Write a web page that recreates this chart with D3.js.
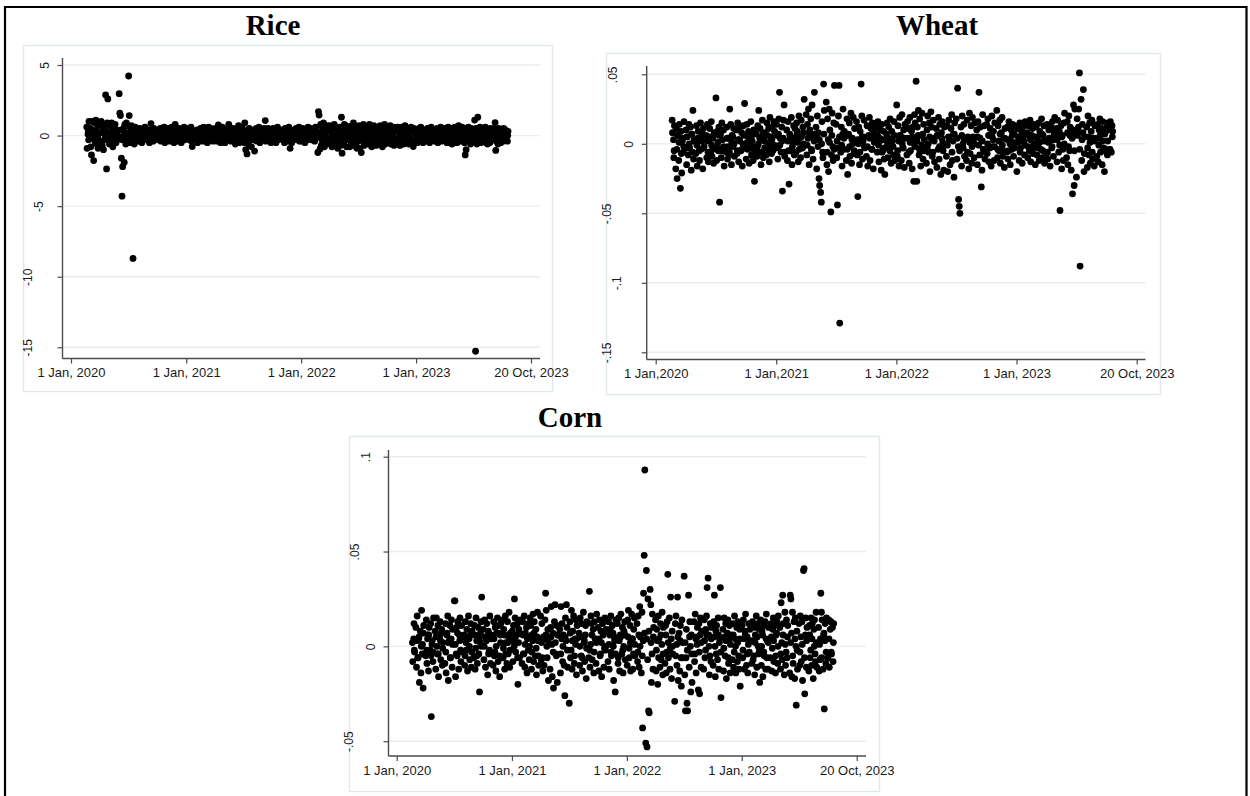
<!DOCTYPE html>
<html>
<head>
<meta charset="utf-8">
<script src="https://cdn.jsdelivr.net/npm/d3@7"></script>
<style>
  html, body { margin: 0; padding: 0; background: #fff; }
  svg { display: block; }
</style>
</head>
<body>
<svg id="chart" width="1250" height="796"></svg>
<script>
// Trading days shared by the three daily return series (yymmdd)
const tradeDates = [
  200220,200221,200225,200227,
  200302,200304,200306,200309,200311,200313,200316,200318,200320,200323,200325,200327,
  200402,200404,200406,200409,200411,200413,200416,200418,200420,200423,200425,200427,
  200502,200504,200506,200509,200511,200513,200516,200518,200520,200523,200525,200527,
  200602,200604,200606,200609,200611,200613,200616,200618,200620,200623,200625,200627,
  200702,200704,200706,200709,200711,200713,200716,200718,200720,200723,200725,200727,
  200802,200804,200806,200809,200811,200813,200816,200818,200820,200823,200825,200827,
  200902,200904,200906,200909,200911,200913,200916,200918,200920,200923,200925,200927,
  201002,201004,201006,201009,201011,201013,201016,201018,201020,201023,201025,201027,
  201102,201104,201106,201109,201111,201113,201116,201118,201120,201123,201125,201127,
  201202,201204,201206,201209,201211,201213,201216,201218,201220,201223,201225,201227,
  210102,210104,210106,210109,210111,210113,210116,210118,210120,210123,210125,210127,
  210202,210204,210206,210209,210211,210213,210216,210218,210220,210223,210225,210227,
  210302,210304,210306,210309,210311,210313,210316,210318,210320,210323,210325,210327,
  210402,210404,210406,210409,210411,210413,210416,210418,210420,210423,210425,210427,
  210502,210504,210506,210509,210511,210513,210516,210518,210520,210523,210525,210527,
  210602,210604,210606,210609,210611,210613,210616,210618,210620,210623,210625,210627,
  210702,210704,210706,210709,210711,210713,210716,210718,210720,210723,210725,210727,
  210802,210804,210806,210809,210811,210813,210816,210818,210820,210823,210825,210827,
  210902,210904,210906,210909,210911,210913,210916,210918,210920,210923,210925,210927,
  211002,211004,211006,211009,211011,211013,211016,211018,211020,211023,211025,211027,
  211102,211104,211106,211109,211111,211113,211116,211118,211120,211123,211125,211127,
  211202,211204,211206,211209,211211,211213,211216,211218,211220,211223,211225,211227,
  220102,220104,220106,220109,220111,220113,220116,220118,220120,220123,220125,220127,
  220202,220204,220206,220209,220211,220213,220216,220218,220220,220223,220225,220227,
  220302,220304,220306,220309,220311,220313,220316,220318,220320,220323,220325,220327,
  220402,220404,220406,220409,220411,220413,220416,220418,220420,220423,220425,220427,
  220502,220504,220506,220509,220511,220513,220516,220518,220520,220523,220525,220527,
  220602,220604,220606,220609,220611,220613,220616,220618,220620,220623,220625,220627,
  220702,220704,220706,220709,220711,220713,220716,220718,220720,220723,220725,220727,
  220802,220804,220806,220809,220811,220813,220816,220818,220820,220823,220825,220827,
  220902,220904,220906,220909,220911,220913,220916,220918,220920,220923,220925,220927,
  221002,221004,221006,221009,221011,221013,221016,221018,221020,221023,221025,221027,
  221102,221104,221106,221109,221111,221113,221116,221118,221120,221123,221125,221127,
  221202,221204,221206,221209,221211,221213,221216,221218,221220,221223,221225,221227,
  230102,230104,230106,230109,230111,230113,230116,230118,230120,230123,230125,230127,
  230202,230204,230206,230209,230211,230213,230216,230218,230220,230223,230225,230227,
  230302,230304,230306,230309,230311,230313,230316,230318,230320,230323,230325,230327,
  230402,230404,230406,230409,230411,230413,230416,230418,230420,230423,230425,230427,
  230502,230504,230506,230509,230511,230513,230516,230518,230520,230523,230525,230527,
  230602,230604,230606,230609,230611,230613,230616,230618,230620,230623,230625,230627,
  230702,230704,230706,230709,230711,230713,230716,230718,230720,230723,230725,230727,
  230802,230804,230806,230809,230811,230813,230816,230818,230820,230823,230825,230827,
  230902,230904,230906,230909,230911,230913,230916,230918,230920,230923,230925,230927,
  231002,231004,231006,231009,231011,231013,231016,231018,231020,
  // remaining trading days of each month
  200224,200226,
  200305,200308,200312,200319,200322,200326,
  200405,200408,200412,200419,200422,200426,
  200505,200508,200512,200519,200522,200526,
  200605,200608,200612,200619,200622,200626,
  200705,200708,200712,200719,200722,200726,
  200805,200808,200812,200819,200822,200826,
  200905,200908,200912,200919,200922,200926,
  201005,201008,201012,201019,201022,201026,
  201105,201108,201112,201119,201122,201126,
  201205,201208,201212,201219,201222,201226,
  210105,210108,210112,210119,210122,210126,
  210205,210208,210212,210219,210222,210226,
  210305,210308,210312,210319,210322,210326,
  210405,210408,210412,210419,210422,210426,
  210505,210508,210512,210519,210522,210526,
  210605,210608,210612,210619,210622,210626,
  210705,210708,210712,210719,210722,210726,
  210805,210808,210812,210819,210822,210826,
  210905,210908,210912,210919,210922,210926,
  211005,211008,211012,211019,211022,211026,
  211105,211108,211112,211119,211122,211126,
  211205,211208,211212,211219,211222,211226,
  220105,220108,220112,220119,220122,220126,
  220205,220208,220212,220219,220222,220226,
  220305,220308,220312,220319,220322,220326,
  220405,220408,220412,220419,220422,220426,
  220505,220508,220512,220519,220522,220526,
  220605,220608,220612,220619,220622,220626,
  220705,220708,220712,220719,220722,220726,
  220805,220808,220812,220819,220822,220826,
  220905,220908,220912,220919,220922,220926,
  221005,221008,221012,221019,221022,221026,
  221105,221108,221112,221119,221122,221126,
  221205,221208,221212,221219,221222,221226,
  230105,230108,230112,230119,230122,230126,
  230205,230208,230212,230219,230222,230226,
  230305,230308,230312,230319,230322,230326,
  230405,230408,230412,230419,230422,230426,
  230505,230508,230512,230519,230522,230526,
  230605,230608,230612,230619,230622,230626,
  230705,230708,230712,230719,230722,230726,
  230805,230808,230812,230819,230822,230826,
  230905,230908,230912,230919,230922,230926,
  231005,231012,231019
];

// Rice daily returns (%)
const rice = [
  .6,-.9,.3,1.0,
  .5,-.8,-1.37,1.0,.2,-1.77,.9,-.4,1.1,-.6,.7,-.9,
  .8,-.5,1.0,-.7,.4,-1.0,.6,-.3,2.88,-2.36,.9,2.6,
  -.6,.7,-.4,.9,.3,-.8,.5,-.2,.8,-.5,.4,-.3,
  2.97,1.58,1.42,-1.6,-4.29,-2.2,.5,-1.9,.8,-.6,.9,-.5,
  4.22,1.42,.6,-.5,.7,-.4,-8.7,.3,-.6,.6,-.3,.5,
  .3,-.4,.5,-.2,.1,-.5,.4,.2,-.3,.6,-.1,.3,
  -.2,.4,-.5,.3,.85,-.3,.2,-.4,.5,.1,-.2,.4,
  .2,-.3,.4,-.1,.5,-.4,.3,-.2,.1,.6,-.5,.2,
  -.3,.5,.1,-.4,.3,-.2,.6,-.1,.2,-.5,.4,.8,
  .1,-.4,.3,.5,-.2,.2,-.5,.4,-.1,.3,.6,-.3,
  .2,.4,-.2,.5,-.3,.1,.6,-.4,-.78,.3,-.1,.2,
  -.2,.4,-.5,.3,.1,-.3,.5,-.1,.2,-.4,.6,.3,
  .4,-.1,.3,-.5,.2,.6,-.3,.1,.5,-.2,.3,-.4,
  -.3,.5,.2,-.4,.3,.75,-.2,.4,-.5,.1,.6,-.1,
  .2,-.5,.4,.1,-.3,.5,.8,-.2,.3,-.4,.2,.5,
  -.4,.3,-.6,.5,.2,-.3,.7,-.5,.1,.4,-.2,.6,
  .3,-.5,.9,-1.0,.2,-1.3,.4,-.6,.5,-.2,.3,-.8,
  -.3,.4,-1.1,.2,.5,-.4,.3,-.2,.6,-.5,.1,.4,
  .2,-.3,.5,1.06,-.4,.3,-.1,.5,-.3,.2,.4,-.5,
  -.2,.5,-.4,.3,.1,-.5,.4,.6,-.3,.2,-.1,.3,
  .4,-.3,.2,-.5,.5,.1,-.2,.3,-.4,.6,-.1,-.9,
  -.5,.3,.1,-.3,.4,-.2,.5,.3,-.3,.2,.6,-.4,
  .3,-.4,.5,-.1,.2,-.5,.4,.1,-.3,.6,-.2,.4,
  -.3,.5,-.2,.4,.1,-.4,.6,-.1,.3,-1.2,1.7,1.45,
  -.95,.8,-.7,.6,-.5,.9,-.8,.4,-.6,.7,-.3,.5,
  .7,-.6,.5,-.8,.3,-.4,.8,-.7,.6,-.2,.4,-.9,
  -.5,.6,-.7,1.3,-1.25,.5,-.6,.8,-.3,.7,-.8,.4,
  .6,-.8,.4,-.5,.7,-.3,.9,-.7,.5,-.6,.3,-.9,
  -.4,.7,-.9,.5,-1.2,.6,-.3,.8,-.7,.4,-.5,.6,
  .5,-.6,.8,-.4,.3,-.8,.6,-.5,.7,-.2,.4,-.7,
  -.6,.4,-.5,.7,-.3,.6,-.8,.5,-.4,.8,-.6,.3,
  .4,-.5,.6,-.3,.7,-.6,.2,-.4,.5,-.7,.6,-.2,
  -.3,.6,-.5,.4,-.7,.3,.6,-.4,.5,-.6,.2,.7,
  .5,-.4,.3,-.6,.4,-.2,.6,-.5,.3,-.78,.5,-.3,
  -.2,.4,-.5,.3,.5,-.3,.6,-.4,.2,-.5,.4,.1,
  .3,-.4,.5,-.2,.4,-.5,.2,.6,-.3,.4,-.1,.3,
  -.4,.3,-.2,.5,-.5,.4,.1,-.3,.6,-.4,.3,-.2,
  .5,-.3,.4,-.5,.2,.6,-.4,.3,-.2,.5,-.6,.4,
  -.3,.6,-.4,.3,-.5,.4,.7,-.3,.5,-.4,.2,.6,
  .4,-.5,-1.37,-1.0,.5,-.3,.6,-.4,.3,-.6,.5,-.2,
  .3,-.4,1.1,-15.28,.5,-.6,1.3,.4,-.3,.6,-.5,.2,
  -.4,.5,-.3,.6,-.5,.3,-.6,.4,.2,-.5,.5,-.3,
  .4,-.3,.5,.92,-1.05,-.4,.3,-.6,.5,-.2,.4,-.5,
  .3,-.4,.5,-.2,.4,-.3,.2,-.4,.3,
  // remaining trading days
  .1,-.3,
  -.2,.4,0,-.5,.3,-.1,
  .2,-.4,.5,-.1,.3,-.2,
  .1,-.2,.3,0,-.3,.2,
  -.1,.4,-.3,.2,0,-.2,
  .2,-.1,.1,-.2,.3,0,
  .1,-.1,0,.2,-.2,.05,
  -.05,.15,-.15,0,.1,-.1,
  0,-.2,.1,-.05,.2,-.1,
  .15,0,-.1,.1,-.15,.05,
  -.1,.05,.2,-.15,0,.1,
  .05,-.15,.1,0,-.05,.2,
  -.2,.1,0,.15,-.1,-.05,
  .1,-.05,-.2,.05,.15,0,
  0,.2,-.1,-.15,.05,.1,
  -.15,.05,.1,-.05,0,.2,
  .2,-.1,0,.1,-.2,-.05,
  -.05,.1,-.15,.2,.05,-.1,
  .1,0,.15,-.2,-.05,.05,
  -.1,.2,.05,0,-.15,.1,
  .05,-.1,-.05,.15,.1,-.2,
  0,.15,-.2,.05,-.1,.1,
  .15,-.05,.1,-.1,.2,0,
  -.2,.05,0,.1,-.05,.15,
  .1,-.15,.2,-.05,0,-.1,
  .2,-.3,.1,-.1,.3,-.2,
  -.2,.1,.3,-.3,0,.2,
  .3,-.1,-.2,.2,.1,-.3,
  -.1,.3,0,-.2,.2,.1,
  .1,-.2,.2,.3,-.3,0,
  -.3,.2,-.1,.1,0,.3,
  .2,0,-.3,.1,-.1,.2,
  -.1,.3,.1,-.2,.2,-.3,
  .3,-.2,0,.2,-.1,.1,
  0,.1,-.2,.3,-.3,.2,
  .1,-.1,.2,0,-.2,.05,
  -.05,.2,-.15,.1,0,-.1,
  .15,0,-.1,-.2,.1,.05,
  -.1,.1,.05,.2,-.15,0,
  .2,-.2,0,.1,.05,-.1,
  0,.15,-.05,-.1,.2,.1,
  -.15,.1,.2,0,-.1,.05,
  .1,-.05,-.2,.15,0,.2,
  .05,.2,-.1,0,.1,-.15,
  -.1,.15,0
];

// Wheat daily log returns
const wheat = [
  .017,.008,-.010,.013,
  -.018,.011,-.025,.006,-.012,.014,-.032,.009,-.021,.004,-.006,.016,
  .010,-.015,.005,-.008,.014,-.003,.012,-.019,.007,.024,-.011,.003,
  -.007,.013,-.016,.009,.002,-.012,.015,-.004,.008,-.018,.011,-.002,
  .006,-.010,.014,-.013,.003,.011,-.006,.016,-.009,.004,-.014,.008,
  .033,-.012,.009,-.005,.012,-.042,.007,-.010,.015,-.003,.010,-.016,
  -.006,.012,-.011,.004,-.008,.025,.014,-.015,.006,-.002,.011,-.009,
  .010,-.007,.015,-.013,.003,.012,-.005,.008,-.016,.013,-.001,.029,
  -.011,.014,-.004,.009,-.014,.006,.016,-.008,.002,-.012,.010,-.027,
  .007,-.009,.013,.024,-.006,.011,-.015,.004,.017,-.010,.008,-.003,
  -.008,.015,-.002,.011,-.013,.019,.005,-.007,.012,-.004,.016,.009,
  .014,.006,-.011,.018,.037,.004,-.006,.012,-.034,.017,.028,-.009,
  .010,-.012,.016,-.029,.007,-.005,.019,-.015,.003,.013,-.008,.011,
  -.006,.015,.009,-.013,.020,.004,-.010,.017,-.003,.012,.008,.032,
  .021,-.008,.014,.025,-.015,.010,.018,-.004,.028,-.011,.007,.037,
  .012,-.018,.020,.008,-.025,-.030,-.035,-.042,.016,-.010,.043,.024,
  .030,-.015,.018,-.020,.025,.010,-.049,-.008,.022,-.012,.015,.042,
  .014,-.010,-.044,.020,.042,-.129,-.006,.012,-.016,.025,-.004,.009,
  -.012,.018,-.022,.007,.015,-.009,.022,-.014,.004,.019,-.007,.011,
  .016,-.008,-.038,.012,-.015,.009,.043,.020,-.011,.005,.017,-.003,
  -.009,.013,-.016,.006,.019,-.012,.011,-.004,.015,-.018,.008,.003,
  .012,-.006,.016,-.013,.004,.010,-.019,.014,-.005,.009,-.011,-.022,
  .007,.015,-.010,.012,-.004,.018,-.014,.009,.002,-.008,.016,-.012,
  .028,-.009,.013,-.016,.019,.006,-.012,.021,-.003,.010,-.017,.014,
  -.008,.016,.011,-.014,.019,-.005,.009,-.018,.012,-.027,.021,.015,
  .045,-.027,.012,.024,-.008,.018,-.016,.006,.022,-.011,.014,.003,
  -.014,.010,.020,-.006,.015,-.020,.023,.012,-.009,.017,.004,-.013,
  .011,-.017,.006,.019,-.011,.014,-.022,.008,.016,-.005,-.019,.012,
  -.009,.013,-.020,.017,.003,-.015,.011,.021,-.012,.007,-.024,.015,
  .018,-.011,.040,-.040,-.045,-.050,.012,-.016,.020,-.003,.014,-.009,
  -.012,.017,.005,-.018,.022,-.007,.013,-.014,.019,.003,-.010,.015,
  .010,-.015,.016,.037,-.008,.012,-.031,-.019,.021,-.004,.013,-.011,
  .014,-.007,.018,-.013,.006,.011,-.016,.020,-.002,.009,-.012,.015,
  .024,-.010,.013,-.005,.017,-.014,.008,.019,-.009,.004,-.017,.011,
  -.006,.012,-.011,.016,.003,-.015,.010,-.004,.014,-.009,.007,.013,
  -.020,.011,.005,-.012,.015,-.003,.009,-.014,.012,.002,-.008,.016,
  .008,-.010,.013,-.005,.017,-.013,.006,.011,-.007,.014,-.002,-.015,
  .012,-.008,.003,.015,-.012,.009,-.004,.018,-.010,.006,.013,-.014,
  -.007,.014,-.011,.010,.004,-.016,.012,-.003,.016,-.009,.008,.019,
  .011,-.013,.017,-.006,.009,-.048,.013,-.018,.006,-.012,.015,.022,
  -.010,.016,-.015,.020,-.005,.012,-.019,.008,-.036,.028,-.030,.025,
  -.024,.018,.009,.025,.051,-.088,.032,-.012,.014,.039,-.020,.005,
  .012,-.017,.020,-.008,.015,-.014,.009,.017,-.011,.004,-.016,.013,
  -.009,.014,-.013,.010,.018,-.006,.011,-.015,.016,-.003,-.020,.008,
  .012,-.008,.015,-.004,.010,.016,-.006,.013,.009,
  // remaining trading days
  .003,-.005,
  -.004,.006,.001,-.007,.002,-.002,
  .005,-.003,.000,.007,-.006,.002,
  -.001,.004,-.005,.002,.006,-.003,
  .002,-.006,.005,-.001,-.004,.007,
  -.003,.001,.006,-.005,.003,-.002,
  .004,-.002,-.006,.001,.005,.000,
  -.005,.003,.002,-.004,.000,.006,
  .001,.005,-.003,.006,-.002,-.005,
  -.002,.000,.004,-.006,.007,.002,
  .006,-.004,.001,.003,-.005,-.001,
  -.003,.007,-.001,.002,.004,-.006,
  .002,-.005,.006,-.002,.001,.004,
  .007,.001,-.004,.005,-.003,.000,
  -.001,.004,.008,-.005,.006,.002,
  .005,-.002,.003,.000,-.006,.007,
  -.006,.003,.001,.006,-.002,-.004,
  .002,-.003,.005,-.001,.007,.004,
  -.004,.006,-.002,.003,.000,-.005,
  .003,.000,-.006,.005,.002,-.002,
  -.002,.005,.004,-.004,.006,.001,
  .006,-.001,.002,-.006,.003,-.003,
  .000,.004,-.005,.002,-.002,.006,
  -.005,.002,.006,.000,-.003,.004,
  .004,-.006,.001,.005,.002,-.002,
  .002,.006,-.004,-.001,.007,-.005,
  -.003,.000,.005,.003,-.006,.002,
  .006,-.004,-.002,.004,.001,-.001,
  -.001,.005,.003,-.006,.002,.007,
  .004,-.002,-.005,.006,.000,.003,
  -.006,.003,.001,-.002,.005,.000,
  .005,-.001,.004,.002,-.004,-.006,
  .000,.006,-.003,.005,.003,-.002,
  -.004,.002,.007,-.001,-.005,.004,
  .003,-.005,.000,.006,.001,-.003,
  .001,.004,-.006,.002,.005,-.001,
  -.002,.006,.003,-.004,.000,.005,
  .005,-.003,.001,.007,-.005,.002,
  -.006,.001,.004,-.002,.003,.006,
  .003,.007,-.001,.005,-.004,.000,
  .008,-.002,.006,.004,.010,-.005,
  .006,.012,-.004,.003,.008,-.007,
  -.003,.005,.001,-.006,.004,.002,
  .004,-.001,.006,.002,-.005,.007,
  .002,-.004,.005
];

// Corn daily log returns
const corn = [
  .002,-.008,.012,-.003,
  .010,-.011,.016,-.006,.004,-.019,.008,-.014,.019,.001,-.022,.011,
  -.005,.014,-.009,.006,-.013,.010,-.002,.012,-.037,.003,-.008,.015,
  .008,-.012,.015,-.004,.011,-.016,.005,.013,-.007,.009,-.010,.002,
  -.009,.012,-.014,.007,.016,-.018,.003,.011,-.006,.014,-.011,.009,
  .024,.024,-.016,.010,-.005,.013,-.012,.006,.015,-.008,.011,-.003,
  .006,-.010,.013,-.002,.009,-.013,.016,.004,-.007,.012,-.011,.008,
  -.006,.011,-.012,.015,.003,-.009,.010,-.004,-.024,.007,.013,.026,
  .009,-.007,.014,-.011,.005,.012,-.015,.008,-.003,.016,-.009,.004,
  -.010,.013,-.005,.010,-.013,.007,.015,-.008,.011,-.016,.006,.012,
  .014,-.006,.009,-.012,.016,.002,-.009,.013,-.004,.018,-.011,.007,
  .008,-.008,.011,.025,.015,-.003,.006,.012,-.020,.009,-.006,.014,
  -.009,.013,-.004,.016,-.011,.007,.010,-.014,.005,.012,-.007,.015,
  .011,-.012,.006,.017,-.008,.013,-.005,.009,-.015,.018,.003,-.010,
  .016,-.007,.012,-.013,.005,-.010,.014,.028,.019,-.006,.009,-.018,
  -.012,.010,.021,-.016,.007,-.022,.013,.022,-.004,.011,-.019,.006,
  .009,-.014,.021,.012,-.008,.006,-.010,-.026,.015,.022,.010,-.011,
  -.030,.013,-.006,.019,-.012,.008,.016,-.009,.004,.014,-.015,.011,
  .007,-.010,.015,-.005,.012,-.013,.018,.002,-.008,.011,-.017,.013,
  -.006,.029,-.011,.016,.012,-.007,.009,-.014,.013,.004,-.009,.017,
  .010,-.013,.014,-.004,.008,-.016,.012,.006,-.011,.015,-.002,.009,
  -.008,.013,-.012,.009,.016,-.005,.011,.007,-.018,.003,-.024,.014,
  .012,-.009,.015,-.013,.006,.017,-.004,.010,-.014,.008,.013,-.007,
  -.010,.014,.019,-.006,.011,-.013,.017,.004,-.012,.009,.015,-.005,
  .012,-.008,.016,-.011,.021,.005,-.014,.018,-.043,.028,.048,.093,
  -.051,.040,-.053,.025,-.034,-.035,.030,.022,-.019,.017,-.012,.010,
  .014,-.013,.009,-.020,.016,.004,-.011,.012,-.007,.018,-.015,.010,
  -.009,.011,-.014,.013,.038,-.006,.015,-.012,.026,-.017,.008,-.004,
  -.029,.012,.016,-.010,.026,-.018,.007,-.013,.011,-.021,.014,-.006,
  .037,-.015,-.034,.009,-.030,-.034,.027,-.011,.013,-.024,.006,-.019,
  .013,-.008,.017,-.014,.005,.010,-.023,.012,-.025,.015,-.011,.008,
  -.012,.014,-.006,.009,.016,.031,.036,.006,-.015,.012,-.008,.010,
  -.010,.013,.027,-.016,.008,.011,-.007,.015,-.012,.004,.031,-.027,
  .009,-.013,.015,-.005,.012,-.017,.007,.014,-.009,.011,-.014,.006,
  -.007,.012,-.011,.016,.004,-.014,.010,-.008,.013,-.012,.009,-.021,
  .011,-.006,.014,-.012,.008,.017,-.010,.005,-.014,.012,-.003,.009,
  -.009,.013,-.007,.010,-.015,.006,.016,-.011,.012,-.004,.009,-.019,
  .014,-.010,.008,-.016,.011,-.005,.013,-.012,.017,.003,-.012,.010,
  -.006,.012,-.013,.009,.015,-.008,.011,-.014,.006,.013,-.009,.016,
  .010,-.012,.023,-.007,.027,.012,-.015,.018,-.010,.014,-.006,.011,
  -.014,.027,.025,-.016,.018,-.009,.013,-.017,.015,-.031,.008,-.012,
  .012,-.010,.016,-.008,.013,-.018,.040,.041,-.025,.015,-.011,.010,
  -.013,.011,-.006,.015,-.010,.012,-.017,.009,.014,-.008,.018,-.011,
  .010,-.013,-.007,.028,.018,.014,-.012,.006,-.033,.012,-.009,.015,
  -.006,.014,-.011,.009,.013,-.004,.010,-.008,.012,
  // remaining trading days
  .004,-.002,
  .003,-.006,.005,.000,-.004,.007,
  -.002,.004,.006,-.005,.001,-.003,
  .005,.000,-.004,.003,.007,-.001,
  -.003,.006,.002,-.006,.004,.001,
  .001,-.004,.007,.003,-.002,.005,
  -.005,.002,.004,.000,.006,-.003,
  .006,-.001,-.005,.004,.002,.000,
  .000,.005,.003,-.004,-.002,.006,
  .004,-.003,.000,.007,-.005,.002,
  -.001,.006,-.004,.002,.005,-.002,
  .003,.000,.005,-.006,.002,.007,
  .006,-.004,.001,.004,-.002,.000,
  -.003,.003,.007,-.001,.005,-.005,
  .002,-.006,.004,.006,.000,.003,
  .005,.001,-.003,.002,-.005,.006,
  -.004,.004,.000,.005,.003,-.002,
  .007,-.002,.003,-.005,.001,.004,
  .000,.005,-.006,.003,.006,-.001,
  -.002,.001,.006,-.003,.004,.002,
  .004,-.005,.002,.007,-.001,.000,
  .001,.006,-.003,.000,.005,-.004,
  -.006,.003,.005,-.002,.000,.006,
  .005,-.001,.002,.004,-.004,.001,
  -.003,.006,.000,-.005,.003,.007,
  .004,-.007,.008,.002,-.004,.005,
  -.002,.003,-.006,.006,.001,-.004,
  .006,-.003,.002,-.001,.004,.000,
  -.005,.001,.005,.003,-.006,.002,
  .002,-.006,-.002,.005,.000,-.004,
  -.004,.004,.001,-.003,.006,.002,
  .003,-.002,.006,.000,-.005,.004,
  .005,.000,-.004,.006,.002,-.003,
  -.001,.005,.003,-.006,.004,.001,
  .006,-.003,.000,.002,-.005,.004,
  -.002,.004,.006,-.004,.001,.003,
  .003,-.005,.002,.005,.000,-.002,
  .000,.006,-.003,.004,-.006,.002,
  .005,-.001,.003,-.005,.007,.000,
  -.004,.002,.006,.001,-.003,.005,
  .002,.007,-.005,.004,.000,-.002,
  -.003,.005,.001,-.006,.006,.003,
  .006,-.002,.004,.000,-.004,.002,
  .001,.004,-.006,.007,.003,-.003,
  .004,-.003,.002
];

// Axis ticks
const xTickDates = ["2020-01-01", "2021-01-01", "2022-01-01", "2023-01-01", "2024-01-01"];
const riceXLabels  = ["1 Jan, 2020", "1 Jan, 2021", "1 Jan, 2022", "1 Jan, 2023", "20 Oct, 2023"];
const wheatXLabels = ["1 Jan,2020", "1 Jan,2021", "1 Jan,2022", "1 Jan, 2023", "20 Oct, 2023"];
const cornXLabels  = ["1 Jan, 2020", "1 Jan, 2021", "1 Jan, 2022", "1 Jan, 2023", "20 Oct, 2023"];
const riceYTicks  = [5, 0, -5, -10, -15];
const riceYLabels = ["5", "0", "-5", "-10", "-15"];
const wheatYTicks  = [0.05, 0, -0.05, -0.1, -0.15];
const wheatYLabels = [".05", "0", "-.05", "-.1", "-.15"];
const cornYTicks  = [0.1, 0.05, 0, -0.05];
const cornYLabels = [".1", ".05", "0", "-.05"];

const parseDay = d3.timeParse("%y%m%d");
const parseIso = d3.timeParse("%Y-%m-%d");
const dates = tradeDates.map(d => parseDay(String(d)));
const tickDates = xTickDates.map(parseIso);

// Panel layout (pixels)
const panels = [
  { title: "Rice", values: rice, yTicks: riceYTicks, yLabels: riceYLabels, xLabels: riceXLabels,
    box: [23.5, 45.5, 552.5, 391.5], axisX: 62.5, axisTop: 58, axisY: 358.5, axisRight: 540,
    xRange: [71, 531], yRange: [65, 347.3], titleX: 273, titleY: 35 },
  { title: "Wheat", values: wheat, yTicks: wheatYTicks, yLabels: wheatYLabels, xLabels: wheatXLabels,
    box: [606.5, 53.5, 1160.5, 394.5], axisX: 646.7, axisTop: 66, axisY: 359.5, axisRight: 1145.5,
    xRange: [655.7, 1136.7], yRange: [74.3, 352.3], titleX: 937, titleY: 35 },
  { title: "Corn", values: corn, yTicks: cornYTicks, yLabels: cornYLabels, xLabels: cornXLabels,
    box: [349.5, 436.5, 879.5, 791.5], axisX: 388.5, axisTop: 450, axisY: 756, axisRight: 866,
    xRange: [396.7, 856.7], yRange: [456.7, 741.2], titleX: 570, titleY: 427 }
];

const svg = d3.select("#chart");
svg.append("rect").attr("width", 1250).attr("height", 796).attr("fill", "#fff");

const AXIS = "#4b4b4b";
const GRID = "#e7eff1";
const BOX = "#dfe8eb";

panels.forEach(p => {
  const g = svg.append("g");
  const x = d3.scaleTime().domain([tickDates[0], tickDates[tickDates.length - 1]]).range(p.xRange);
  const y = d3.scaleLinear().domain([p.yTicks[0], p.yTicks[p.yTicks.length - 1]]).range(p.yRange);

  // outer panel box
  g.append("rect")
    .attr("x", p.box[0]).attr("y", p.box[1])
    .attr("width", p.box[2] - p.box[0]).attr("height", p.box[3] - p.box[1])
    .attr("fill", "#fff").attr("stroke", BOX).attr("stroke-width", 1.3);

  // title
  g.append("text")
    .attr("x", p.titleX).attr("y", p.titleY)
    .attr("text-anchor", "middle")
    .attr("font-family", "'Liberation Serif', 'Times New Roman', serif")
    .attr("font-weight", "bold").attr("font-size", 29).attr("fill", "#000")
    .text(p.title);

  // horizontal grid lines
  g.append("g").selectAll("line").data(p.yTicks).join("line")
    .attr("x1", p.axisX).attr("x2", p.axisRight)
    .attr("y1", d => y(d)).attr("y2", d => y(d))
    .attr("stroke", GRID).attr("stroke-width", 1.4);

  // y axis
  const yAxis = d3.axisLeft(y).tickValues(p.yTicks)
    .tickFormat((d, i) => p.yLabels[i]).tickSize(5).tickSizeOuter(0);
  const gy = g.append("g").attr("transform", `translate(${p.axisX},0)`).call(yAxis);
  gy.select(".domain").remove();
  gy.selectAll(".tick line").attr("stroke", AXIS).attr("stroke-width", 1.2);
  gy.selectAll(".tick text")
    .attr("font-family", "'Liberation Sans', Arial, sans-serif")
    .attr("font-size", 12).attr("fill", "#1a1a1a")
    .attr("text-anchor", "middle").attr("x", null).attr("dy", "0.35em")
    .each(function () {
      const len = this.getComputedTextLength();
      d3.select(this).attr("transform", `translate(${-(7 + 1.6 * len)},0) rotate(-90)`);
    });
  g.append("line")
    .attr("x1", p.axisX).attr("x2", p.axisX).attr("y1", p.axisTop).attr("y2", p.axisY)
    .attr("stroke", AXIS).attr("stroke-width", 1.4);

  // x axis
  const xAxis = d3.axisBottom(x).tickValues(tickDates)
    .tickFormat((d, i) => p.xLabels[i]).tickSize(5).tickSizeOuter(0);
  const gx = g.append("g").attr("transform", `translate(0,${p.axisY})`).call(xAxis);
  gx.select(".domain").remove();
  gx.selectAll(".tick line").attr("stroke", AXIS).attr("stroke-width", 1.2);
  gx.selectAll(".tick text")
    .attr("font-family", "'Liberation Sans', Arial, sans-serif")
    .attr("font-size", 13).attr("fill", "#1a1a1a")
    .attr("y", 18.5).attr("dy", null);
  g.append("line")
    .attr("x1", p.axisX).attr("x2", p.axisRight).attr("y1", p.axisY).attr("y2", p.axisY)
    .attr("stroke", AXIS).attr("stroke-width", 1.4);

  // daily observations
  const n = Math.min(dates.length, p.values.length);
  const pts = d3.range(n).map(i => ({ date: dates[i], value: p.values[i] }));
  g.append("g").selectAll("circle").data(pts).join("circle")
    .attr("cx", d => x(d.date)).attr("cy", d => y(d.value))
    .attr("r", 3.4).attr("fill", "#000");
});

// figure frame
svg.append("path")
  .attr("d", "M5,800 V7 H1246.5 V800")
  .attr("fill", "none").attr("stroke", "#000").attr("stroke-width", 2.2);
</script>
</body>
</html>
